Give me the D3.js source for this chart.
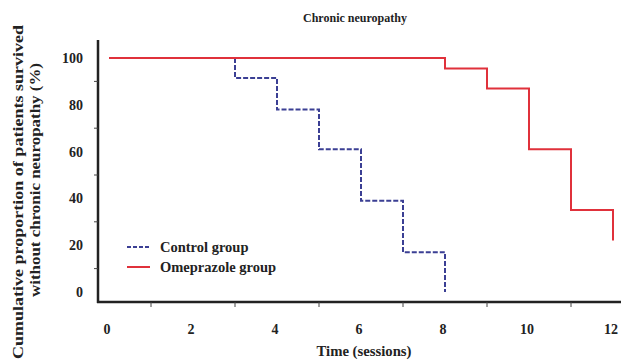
<!DOCTYPE html>
<html>
<head>
<meta charset="utf-8">
<script src="https://cdn.jsdelivr.net/npm/d3@7"></script>
<style>
  body { margin: 0; background: #fff; }
  text { font-family: "Liberation Serif", "Times New Roman", serif; font-weight: bold; fill: #222; }
</style>
</head>
<body>
<div id="chart"></div>
<script>
// step times and survival (%)
const controlTimes = [0, 3, 4, 5, 6, 7, 8];
const controlValues = [100, 91.5, 78, 61, 39, 17, 0];
const omeTimes = [0, 8, 9, 10, 11, 12];
const omeValues = [100, 95.5, 87, 61, 35, 22];

const yLabels = [0, 20, 40, 60, 80, 100];
const yTicks = [10, 30, 50, 70, 90];
const xLabels = [0, 2, 4, 6, 8, 10, 12];
const xTicks = [1, 3, 5, 7, 9, 11];

const width = 621, height = 363;
const svg = d3.select("#chart").append("svg")
  .attr("width", width).attr("height", height);

const x = d3.scaleLinear().domain([0, 12]).range([109, 613]);
const y = d3.scaleLinear().domain([0, 100]).range([292, 58]);
const axisX = 98, axisY = 302;

// step path: horizontal then vertical drop at each event time
function stepData(times, vals) {
  let pts = [];
  for (let i = 0; i < times.length; i++) {
    if (i > 0) pts.push([times[i], vals[i - 1]]);
    pts.push([times[i], vals[i]]);
  }
  return pts;
}
const line = d3.line().x(d => x(d[0])).y(d => y(d[1]));

svg.append("path")
  .datum(stepData(controlTimes, controlValues))
  .attr("d", line)
  .attr("fill", "none")
  .attr("stroke", "#3b3f94")
  .attr("stroke-width", 2)
  .attr("stroke-dasharray", "5,2");

// red on top, it hides the control line where both are at 100
svg.append("path")
  .datum(stepData(omeTimes, omeValues))
  .attr("d", line)
  .attr("fill", "none")
  .attr("stroke", "#e0313b")
  .attr("stroke-width", 2);

// axes
svg.append("line").attr("x1", axisX).attr("x2", axisX).attr("y1", 40).attr("y2", axisY + 1)
  .attr("stroke", "#222").attr("stroke-width", 2.5);
svg.append("line").attr("x1", axisX - 1).attr("x2", width).attr("y1", axisY).attr("y2", axisY)
  .attr("stroke", "#222").attr("stroke-width", 2.5);

svg.selectAll(".ytick").data(yTicks).enter().append("line")
  .attr("x1", axisX - 4).attr("x2", axisX)
  .attr("y1", d => y(d)).attr("y2", d => y(d))
  .attr("stroke", "#444").attr("stroke-width", 1);
svg.selectAll(".xtick").data(xTicks).enter().append("line")
  .attr("x1", d => x(d)).attr("x2", d => x(d))
  .attr("y1", axisY).attr("y2", axisY + 5)
  .attr("stroke", "#444").attr("stroke-width", 1);

svg.selectAll(".ylab").data(yLabels).enter().append("text")
  .attr("x", 83).attr("y", d => y(d) + 5)
  .attr("text-anchor", "end").attr("font-size", 14)
  .text(d => d);
svg.selectAll(".xlab").data(xLabels).enter().append("text")
  .attr("x", d => x(d) - 2).attr("y", 334)
  .attr("text-anchor", "middle").attr("font-size", 14)
  .text(d => d);

// titles
svg.append("text").attr("x", 355).attr("y", 22)
  .attr("text-anchor", "middle").attr("font-size", 12)
  .text("Chronic neuropathy");
svg.append("text").attr("x", 364).attr("y", 356)
  .attr("text-anchor", "middle").attr("font-size", 15)
  .attr("textLength", 95).attr("lengthAdjust", "spacingAndGlyphs")
  .text("Time (sessions)");
const yt = svg.append("g").attr("transform", "translate(23,192) rotate(-90)");
yt.append("text").attr("text-anchor", "middle").attr("font-size", 15.5)
  .attr("textLength", 334).attr("lengthAdjust", "spacingAndGlyphs")
  .text("Cumulative proportion of patients survived");
yt.append("text").attr("x", 12).attr("y", 17).attr("text-anchor", "middle").attr("font-size", 15.5)
  .attr("textLength", 234).attr("lengthAdjust", "spacingAndGlyphs")
  .text("without chronic neuropathy (%)");

// legend
const legend = [
  { name: "Control group", color: "#3b3f94", dash: "4,2" },
  { name: "Omeprazole group", color: "#e0313b", dash: null }
];
const lg = svg.selectAll(".lg").data(legend).enter().append("g")
  .attr("transform", (d, i) => `translate(127,${247 + i * 20})`);
lg.append("line").attr("x1", 0).attr("x2", 23).attr("y1", 0).attr("y2", 0)
  .attr("stroke", d => d.color).attr("stroke-width", 2)
  .attr("stroke-dasharray", d => d.dash);
lg.append("text").attr("x", 33).attr("y", 5).attr("font-size", 14.5)
  .text(d => d.name);
</script>
</body>
</html>
